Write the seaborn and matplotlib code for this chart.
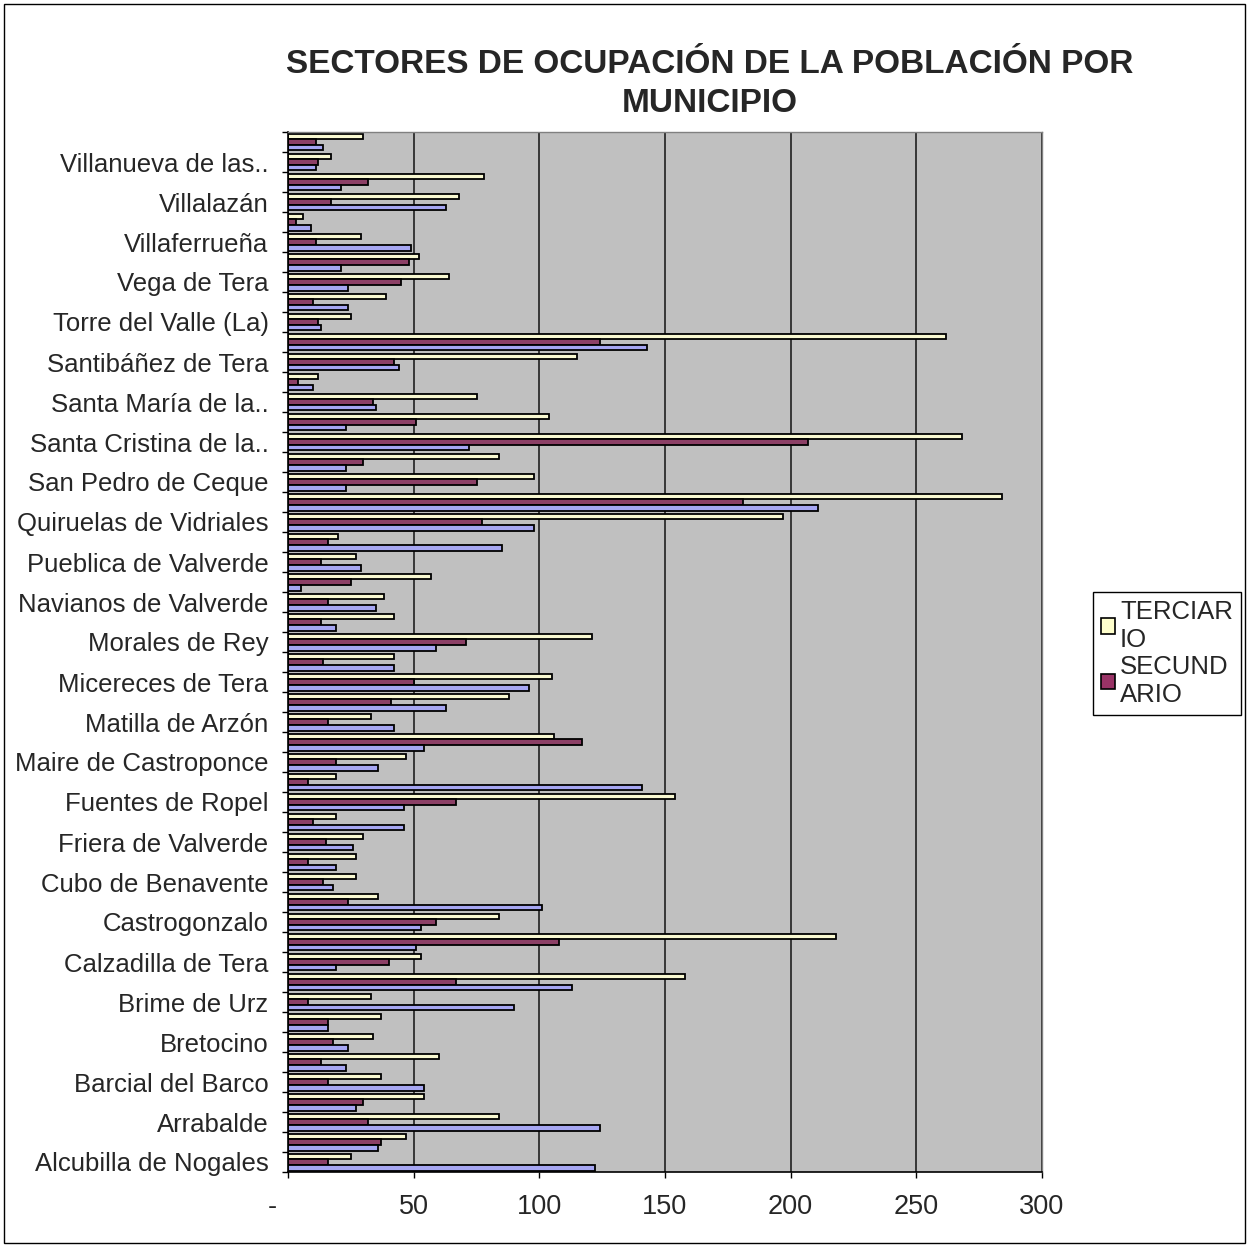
import numpy as np
import pandas as pd
import matplotlib
matplotlib.use("Agg")
import matplotlib.pyplot as plt
from matplotlib.patches import Patch, Rectangle
import seaborn as sns

# Municipios, de abajo (Alcubilla) hacia arriba, tal como aparecen en el gráfico
municipios = [
    "Alcubilla de Nogales", "Arcos de la Polvorosa", "Arrabalde", "Ayoó de Vidriales",
    "Barcial del Barco", "Bretó", "Bretocino", "Brime de Sog", "Brime de Urz",
    "Burganes de Valverde", "Calzadilla de Tera", "Camarzana de Tera", "Castrogonzalo",
    "Coomonte", "Cubo de Benavente", "Fresno de la Polvorosa", "Friera de Valverde",
    "Fuente Encalada", "Fuentes de Ropel", "Granucillo", "Maire de Castroponce",
    "Manganeses de la Polvorosa", "Matilla de Arzón", "Melgar de Tera", "Micereces de Tera",
    "Milles de la Polvorosa", "Morales de Rey", "Morales de Valverde", "Navianos de Valverde",
    "Pobladura del Valle", "Pueblica de Valverde", "Quintanilla de Urz", "Quiruelas de Vidriales",
    "San Cristóbal de Entreviñas", "San Pedro de Ceque", "Santa Colomba de las Monjas",
    "Santa Cristina de la..", "Santa Croya de Tera", "Santa María de la..",
    "Santa María de Valverde", "Santibáñez de Tera", "Santibáñez de Vidriales",
    "Torre del Valle (La)", "Uña de Quintana", "Vega de Tera", "Villabrázaro",
    "Villaferrueña", "Villageriz", "Villalazán", "Villanázar", "Villanueva de las..",
    "Villaveza de Valverde",
]

terciario = [25, 47, 84, 54, 37, 60, 34, 37, 33, 158, 53, 218, 84, 36, 27, 27, 30, 19, 154, 19,
             47, 106, 33, 88, 105, 42, 121, 42, 38, 57, 27, 20, 197, 284, 98, 84, 268, 104, 75,
             12, 115, 262, 25, 39, 64, 52, 29, 6, 68, 78, 17, 30]
secundario = [16, 37, 32, 30, 16, 13, 18, 16, 8, 67, 40, 108, 59, 24, 14, 8, 15, 10, 67, 8,
              19, 117, 16, 41, 50, 14, 71, 13, 16, 25, 13, 16, 77, 181, 75, 30, 207, 51, 34,
              4, 42, 124, 12, 10, 45, 48, 11, 3, 17, 32, 12, 11]
primario = [122, 36, 124, 27, 54, 23, 24, 16, 90, 113, 19, 51, 53, 101, 18, 19, 26, 46, 46, 141,
            36, 54, 42, 63, 96, 42, 59, 19, 35, 5, 29, 85, 98, 211, 23, 23, 72, 23, 35,
            10, 44, 143, 13, 24, 24, 21, 49, 9, 63, 21, 11, 14]

sectores = ["TERCIARIO", "SECUNDARIO", "PRIMARIO"]
etiquetas_leyenda = ["TERCIAR\nIO", "SECUND\nARIO"]
colores = ["#FFFFCC", "#993366", "#9999FF"]
ticks_x = [0, 50, 100, 150, 200, 250, 300]
etiquetas_x = ["-    ", "50", "100", "150", "200", "250", "300"]

df = pd.DataFrame({
    "municipio": municipios * 3,
    "sector": np.repeat(sectores, len(municipios)),
    "personas": terciario + secundario + primario,
})

# El primero de la lista queda arriba, así que se invierte el orden
orden = municipios[::-1]

sns.set_style("white")
plt.rcParams["font.family"] = ["Liberation Sans", "DejaVu Sans"]

fig = plt.figure(figsize=(12.49, 12.47), dpi=100)
ax = fig.add_axes([288 / 1249, 1 - 1172 / 1247, (1042 - 288) / 1249, (1172 - 132) / 1247])
ax.set_facecolor("#C0C0C0")

sns.barplot(data=df, y="municipio", x="personas", hue="sector", order=orden,
            hue_order=sectores, palette=colores, orient="h", errorbar=None,
            edgecolor="black", linewidth=1.3, width=0.85, legend=False, ax=ax)

ax.set_xlim(0, 300)
ax.set_ylim(len(orden) - 0.5, -0.5)
ax.set_xlabel("")
ax.set_ylabel("")

# rejilla vertical negra detrás de las barras
ax.set_axisbelow(True)
ax.xaxis.grid(True, color="#202020", linewidth=1.2)
ax.yaxis.grid(False)

# solo se ve una etiqueta de cada dos
pos_etiq = [i for i, m in enumerate(orden) if (len(orden) - i) % 2 == 1]
ax.set_yticks(pos_etiq, [orden[i] for i in pos_etiq], fontsize=18.5)
ax.set_yticks(np.arange(-0.5, len(orden), 1), minor=True)
ax.tick_params(axis="y", which="major", length=0, pad=14)
ax.tick_params(axis="y", which="minor", length=4, width=1, direction="out", color="black", left=True)

ax.set_xticks(ticks_x, etiquetas_x, fontsize=19.5)
ax.tick_params(axis="x", which="major", length=4, width=1, direction="out", color="black",
               bottom=True, pad=12)

for lado in ["left", "bottom"]:
    ax.spines[lado].set_color("black")
    ax.spines[lado].set_linewidth(1.2)
for lado in ["top", "right"]:
    ax.spines[lado].set_color("#808080")
    ax.spines[lado].set_linewidth(1.0)

fig.text(710 / 1249, 1 - 84 / 1247, "SECTORES DE OCUPACIÓN DE LA POBLACIÓN POR\nMUNICIPIO",
         ha="center", va="center", fontsize=24, fontweight="bold", linespacing=1.3)

manejadores = [Patch(facecolor=c, edgecolor="black", linewidth=1.2) for c in colores[:2]]
fig.legend(manejadores, etiquetas_leyenda, loc="upper left",
           bbox_to_anchor=(1093 / 1249, 1 - 592 / 1247), bbox_transform=fig.transFigure,
           frameon=True, fancybox=False, edgecolor="black", framealpha=1,
           fontsize=18.5, handlelength=0.55, handleheight=0.55, handletextpad=0.2,
           borderpad=0.3, labelspacing=0.15, borderaxespad=0)

# marco exterior del gráfico
fig.patches.append(Rectangle((4 / 1249, 4 / 1247), 1 - 8 / 1249, 1 - 8 / 1247,
                             transform=fig.transFigure, fill=False, edgecolor="black",
                             linewidth=1.0))

fig.savefig("out.png", dpi=100, facecolor="white")
